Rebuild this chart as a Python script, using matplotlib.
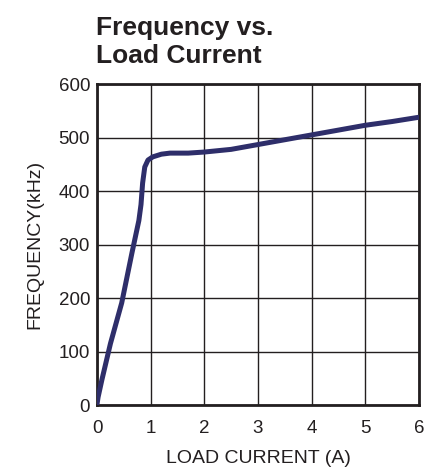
import numpy as np
import matplotlib.pyplot as plt

# curve
current = [0.0, 0.02, 0.09, 0.25, 0.46, 0.65, 0.78, 0.82, 0.85, 0.89, 0.95, 1.04, 1.2, 1.36, 1.7, 2.0, 2.5, 3.0, 3.5, 4.0, 4.5, 5.0, 5.5, 6.0]
freq = [2, 15, 47, 115, 191, 284, 345, 375, 415, 445, 458, 464, 469, 471, 471, 473, 478, 487, 496, 505, 514, 523, 530, 538]

xticks = [0, 1, 2, 3, 4, 5, 6]
yticks = [0, 100, 200, 300, 400, 500, 600]

plt.rcParams['font.family'] = ['Liberation Sans', 'DejaVu Sans']

fig = plt.figure(figsize=(4.4, 4.75), dpi=100)
ax = fig.add_axes([0.2205, 0.147, 0.7315, 0.676])

ax.plot(current, freq, color='#2e2e6a', linewidth=3.6, solid_capstyle='round', zorder=3)

ax.set_xlim(0, 6)
ax.set_ylim(0, 600)
ax.set_xticks(xticks)
ax.set_yticks(yticks)
ax.grid(True, color='#231f20', linewidth=1.0)
ax.tick_params(length=0, labelsize=13.5, labelcolor='#231f20')
ax.tick_params(axis='x', pad=11)
ax.tick_params(axis='y', pad=5)
for s in ax.spines.values():
    s.set_linewidth(2.0)
    s.set_color('#231f20')

ax.set_xlabel('LOAD CURRENT (A)', fontsize=14, color='#231f20', labelpad=9)
ax.set_ylabel('FREQUENCY(kHz)', fontsize=14, color='#231f20', labelpad=11)

fig.text(0.218, 0.967, 'Frequency vs.\nLoad Current', fontsize=19, fontweight='bold',
         ha='left', va='top', linespacing=1.25, color='#231f20')

fig.savefig('out.png', dpi=100)
